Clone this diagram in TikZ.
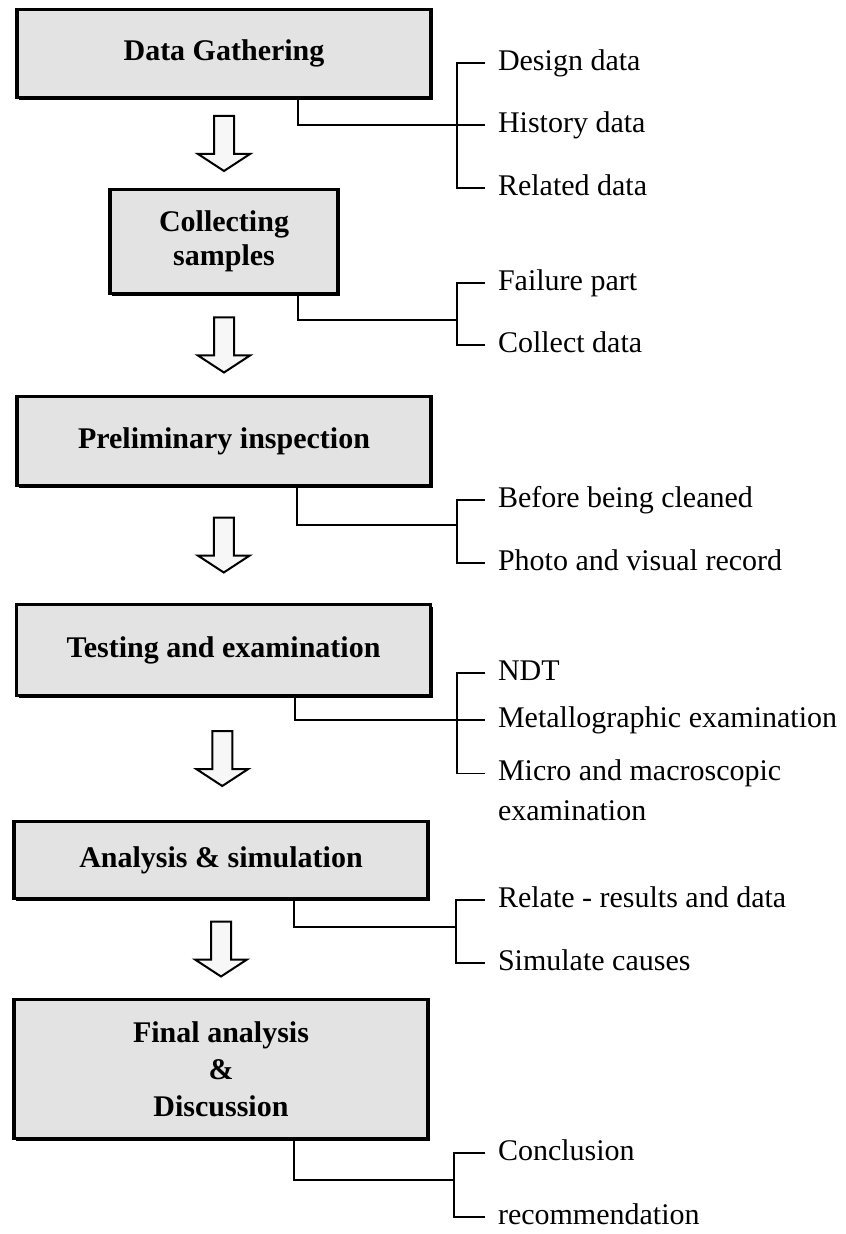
\documentclass[tikz,border=0pt]{standalone}
\usepackage{fontspec}
\setmainfont{Liberation Serif}
\usepackage{tikz}
\usetikzlibrary{calc}
\usetikzlibrary{shadows}
\usetikzlibrary{positioning}

\tikzset{
  stagebox/.style={draw, line width=1.6pt, fill=gray!22, align=center, inner sep=0pt,
    font=\fontsize{15}{17}\selectfont\bfseries,
    drop shadow={shadow xshift=1.2pt, shadow yshift=-1.2pt, fill=black, opacity=1}},
  itemtext/.style={anchor=west, inner sep=0pt, outer xsep=6.5pt, align=left,
    font=\fontsize{15}{20}\selectfont},
  itemline/.style={itemtext, text height=10.5pt, text depth=3pt},
  link/.style={line width=0.7pt},
  flowarrow/.style={line width=1pt, fill=gray!6, line join=miter},
}

\begin{document}
\begin{tikzpicture}[x=0.5pt, y=-0.5pt]
    \useasboundingbox (0,0) rectangle (845,1234);

    % main steps
    \node[stagebox, minimum width=207pt, minimum height=44pt] (gather) at (224,53.5) {Data Gathering};
    \node[stagebox, minimum width=114pt, minimum height=52pt] (collect) at (224,241.5) {Collecting\\samples};
    \node[stagebox, minimum width=207pt, minimum height=44.5pt] (prelim) at (224,441) {Preliminary inspection};
    \node[stagebox, minimum width=207pt, minimum height=45.5pt] (testing) at (223.5,650) {Testing and examination};
    \node[stagebox, minimum width=207pt, minimum height=38.5pt] (analysis) at (221,860) {Analysis \& simulation};
    \node[stagebox, minimum width=207pt, minimum height=69.5pt, font=\fontsize{15}{18.5}\selectfont\bfseries] (final) at (221,1069) {Final analysis\\\&\\Discussion};

    % block arrows
    \foreach \a/\b in {gather/collect, collect/prelim, prelim/testing, testing/analysis, analysis/final}
      \draw[flowarrow] ($(\a.south)!0.5!(\b.north)$) ++(-10,-27.5) -- ++(20,0) -- ++(0,38) -- ++(16,0)
        -- ++(-26,17) -- ++(-26,-17) -- ++(16,0) -- cycle;

    % data gathering
    \node[itemline] (design) at (485,63) {Design data};
    \node[itemline] (history) at (485,125) {History data};
    \node[itemline] (related) at (485,188) {Related data};
    \coordinate (gb) at (457,125);
    \draw[link] (gather.south -| 298,0) |- (gb);
    \draw[link] (design.west) -| (gb) |- (related.west);
    \draw[link] (gb) -- (history.west);

    % collecting samples
    \node[itemline] (failure) at (485,283) {Failure part};
    \node[itemline] (collectd) at (485,345) {Collect data};
    \coordinate (cb) at (457,320);
    \draw[link] (collect.south -| 298,0) |- (cb);
    \draw[link] (failure.west) -| (cb) |- (collectd.west);

    % preliminary inspection
    \node[itemline] (before) at (485,500) {Before being cleaned};
    \node[itemline] (photo) at (485,563) {Photo and visual record};
    \coordinate (pb) at (457,525);
    \draw[link] (prelim.south -| 297,0) |- (pb);
    \draw[link] (before.west) -| (pb) |- (photo.west);

    % testing
    \node[itemline] (ndt) at (485,673) {NDT};
    \node[itemline] (metal) at (485,720) {Metallographic examination};
    \node[itemtext] (micro) at (485,790) {Micro and macroscopic\\examination};
    \coordinate (tb) at (457,720);
    \draw[link] (testing.south -| 295,0) |- (tb);
    \draw[link] (ndt.west) -| (tb) |- ([yshift=8.4pt]micro.west);
    \draw[link] (tb) -- (metal.west);

    % analysis
    \node[itemline] (relate) at (485,900) {Relate - results and data};
    \node[itemline] (simulate) at (485,963) {Simulate causes};
    \coordinate (ab) at (456,927);
    \draw[link] (analysis.south -| 294,0) |- (ab);
    \draw[link] (relate.west) -| (ab) |- (simulate.west);

    % final
    \node[itemline] (conclusion) at (485,1153) {Conclusion};
    \node[itemline] (recommend) at (485,1217) {recommendation};
    \coordinate (fb) at (454,1180);
    \draw[link] (final.south -| 294,0) |- (fb);
    \draw[link] (conclusion.west) -| (fb) |- (recommend.west);

  \end{tikzpicture}
\end{document}
